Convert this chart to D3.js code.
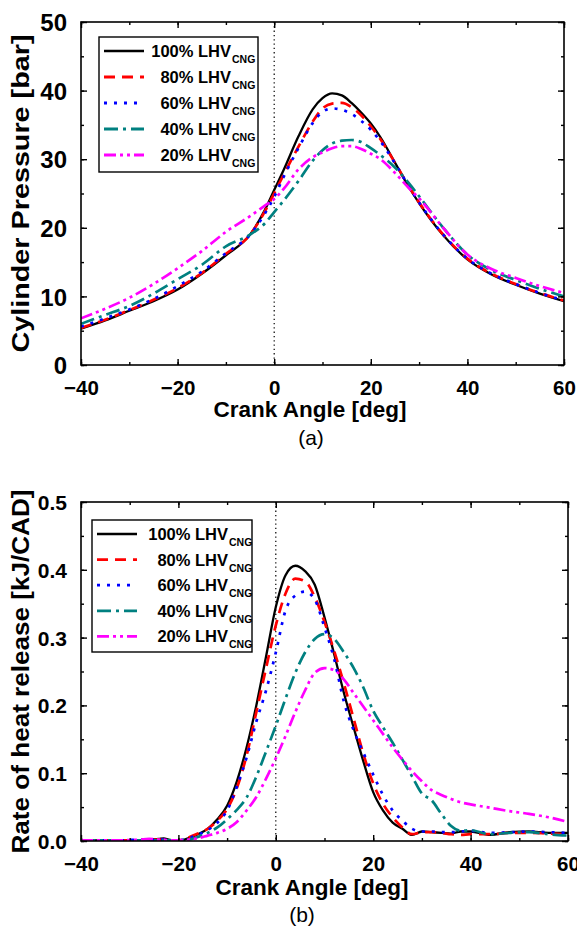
<!DOCTYPE html>
<html>
<head>
<meta charset="utf-8">
<script src="https://cdn.jsdelivr.net/npm/d3@7"></script>
<style>
html,body{margin:0;padding:0;background:#fff;}
svg{display:block;}
text{font-family:"Liberation Sans",Arial,sans-serif;}
</style>
</head>
<body>
<svg id="chart" width="577" height="936"></svg>
<script>
// ---------- DATA ----------
const seriesNames = ["100% LHV", "80% LHV", "60% LHV", "40% LHV", "20% LHV"];
const seriesSub = "CNG";
const seriesColors = ["#000000", "#ff0000", "#0000ff", "#008080", "#ff00ff"];
const seriesDash = [null, "11,7", "3,7", "14,5,3,5", "12,4,3,4,3,4"];

const xTicks = [-40, -20, 0, 20, 40, 60];
const pTicks = [0, 10, 20, 30, 40, 50];
const rTicks = [0.0, 0.1, 0.2, 0.3, 0.4, 0.5];

// (a) cylinder pressure [bar]
const angleP = [-40,-35,-30,-25,-20,-15,-10,-5,-2,0,2,5,8,10,12,14,16,18,20,22,25,28,30,35,40,45,50,55,60];
const p100 = [5.3,6.5,7.9,9.3,11.0,13.3,16.0,19.0,22.5,25.5,28.5,33.3,37.3,38.9,39.6,39.3,38.2,36.8,35.2,33.2,29.5,25.8,23.6,18.9,15.4,13.2,11.7,10.4,9.3];
const p80  = [5.4,6.6,8.0,9.5,11.2,13.4,16.2,19.0,22.3,25.0,27.8,31.8,35.5,37.4,38.1,38.2,37.6,36.4,34.8,32.9,29.5,25.9,23.7,19.0,15.5,13.3,11.8,10.5,9.4];
const p60  = [5.6,6.8,8.1,9.6,11.5,13.6,16.3,19.0,22.0,24.5,27.5,31.6,35.3,36.9,37.4,37.2,36.6,35.6,34.3,32.6,29.4,25.9,23.7,19.0,15.5,13.3,11.8,10.5,9.4];
const p40  = [6.0,7.3,8.6,10.4,12.5,14.6,17.3,19.0,20.6,22.3,24.0,26.8,29.8,31.3,32.3,32.7,32.8,32.5,31.6,30.6,28.8,26.4,24.6,20.0,16.1,13.8,12.4,11.1,10.0];
const p20  = [6.8,8.2,9.8,11.8,14.1,16.6,19.4,21.7,23.2,24.2,25.7,28.5,30.3,31.0,31.6,31.9,31.9,31.5,30.8,30.0,28.0,25.7,24.3,20.0,16.1,14.0,12.7,11.5,10.5];

// (b) rate of heat release [kJ/CAD]
const angleR = [-40,-36,-32,-28,-26,-24,-23,-22,-20,-18,-16,-14,-12,-10,-8,-6,-4,-2,0,2,4,6,8,10,12,14,16,18,20,22,24,26,28,30,32,34,36,38,40,44,48,52,56,60];
const r100 = [0.001,0.001,0.001,0.001,0.002,0.003,0.004,0.002,0.000,0.004,0.010,0.018,0.032,0.052,0.088,0.138,0.200,0.272,0.345,0.392,0.406,0.398,0.378,0.330,0.275,0.218,0.167,0.117,0.072,0.045,0.027,0.018,0.009,0.014,0.013,0.012,0.011,0.014,0.014,0.009,0.013,0.014,0.012,0.012];
const r80  = [0.001,0.001,0.001,0.001,0.002,0.002,0.002,0.001,0.001,0.005,0.011,0.018,0.030,0.047,0.078,0.126,0.190,0.255,0.318,0.365,0.387,0.383,0.360,0.323,0.280,0.232,0.180,0.128,0.085,0.055,0.035,0.020,0.010,0.013,0.013,0.012,0.010,0.009,0.010,0.010,0.012,0.012,0.011,0.010];
const r60  = [0.001,0.001,0.001,0.002,0.002,0.002,0.002,0.001,0.001,0.004,0.009,0.016,0.027,0.045,0.080,0.123,0.176,0.222,0.278,0.340,0.362,0.368,0.356,0.315,0.268,0.205,0.163,0.130,0.098,0.068,0.045,0.030,0.018,0.014,0.014,0.013,0.013,0.014,0.015,0.012,0.013,0.014,0.013,0.012];
const r40  = [0.001,0.001,0.001,0.001,0.001,0.001,0.001,0.001,0.001,0.002,0.006,0.012,0.020,0.032,0.046,0.064,0.095,0.132,0.170,0.210,0.248,0.278,0.298,0.305,0.298,0.278,0.255,0.226,0.192,0.168,0.145,0.120,0.095,0.070,0.060,0.040,0.022,0.015,0.016,0.010,0.012,0.013,0.010,0.008];
const r20  = [0.001,0.001,0.001,0.002,0.003,0.002,0.002,0.001,0.001,0.002,0.004,0.008,0.012,0.018,0.028,0.045,0.065,0.092,0.122,0.155,0.190,0.222,0.248,0.255,0.252,0.238,0.218,0.198,0.178,0.158,0.138,0.120,0.103,0.088,0.075,0.068,0.062,0.057,0.054,0.049,0.044,0.040,0.035,0.028];

const pSeries = [p100, p80, p60, p40, p20];
const rSeries = [r100, r80, r60, r40, r20];

// ---------- DRAW ----------
const svg = d3.select("#chart");
const FONT = '"Liberation Sans",Arial,sans-serif';

function drawPanel(cfg) {
  const x = d3.scaleLinear().domain([-40, 60]).range([cfg.left, cfg.right]);
  const y = d3.scaleLinear().domain(cfg.yDomain).range([cfg.bottom, cfg.top]);
  const g = svg.append("g");

  // zero line (dotted)
  g.append("line")
    .attr("x1", x(0)).attr("x2", x(0))
    .attr("y1", cfg.top).attr("y2", cfg.bottom)
    .attr("stroke", "#000").attr("stroke-width", 1.2)
    .attr("stroke-dasharray", "1.3,3");

  // curves
  const clipId = "clip" + cfg.id;
  svg.append("clipPath").attr("id", clipId).append("rect")
    .attr("x", cfg.left).attr("y", cfg.top - 2)
    .attr("width", cfg.right - cfg.left).attr("height", cfg.bottom - cfg.top + 2);
  const line = d3.line().x(d => x(d[0])).y(d => y(d[1])).curve(d3.curveMonotoneX);
  cfg.series.forEach((vals, i) => {
    const pts = cfg.angles.map((a, k) => [a, vals[k]]);
    g.append("path").datum(pts)
      .attr("clip-path", `url(#${clipId})`)
      .attr("d", line)
      .attr("fill", "none")
      .attr("stroke", seriesColors[i])
      .attr("stroke-width", i === 0 ? 2.3 : 2.7)
      .attr("stroke-dasharray", seriesDash[i]);
  });

  // axes with inward ticks on all sides
  const minorX = d3.range(-40, 61, 10);
  const minorY = d3.range(cfg.yDomain[0], cfg.yDomain[1] + cfg.yMinor / 2, cfg.yMinor);
  const axB = d3.axisBottom(x).tickValues(minorX).tickSize(-3).tickFormat("");
  const axT = d3.axisTop(x).tickValues(minorX).tickSize(-3).tickFormat("");
  const axBM = d3.axisBottom(x).tickValues(xTicks).tickSize(-6).tickPadding(15).tickFormat(d3.format("d"));
  const axTM = d3.axisTop(x).tickValues(xTicks).tickSize(-6).tickFormat("");
  const axL = d3.axisLeft(y).tickValues(minorY).tickSize(-3).tickFormat("");
  const axR = d3.axisRight(y).tickValues(minorY).tickSize(-3).tickFormat("");
  const axLM = d3.axisLeft(y).tickValues(cfg.yTicks).tickSize(-6).tickPadding(14).tickFormat(cfg.yFmt);
  const axRM = d3.axisRight(y).tickValues(cfg.yTicks).tickSize(-6).tickFormat("");

  const put = (ax, tx, ty) => {
    const a = g.append("g").attr("transform", `translate(${tx},${ty})`).call(ax);
    a.select(".domain").remove();
    a.selectAll("line").attr("stroke", "#000").attr("stroke-width", 1.4);
    return a;
  };
  put(axB, 0, cfg.bottom); put(axT, 0, cfg.top);
  put(axL, cfg.left, 0); put(axR, cfg.right, 0);
  put(axTM, 0, cfg.top); put(axRM, cfg.right, 0);
  const bx = put(axBM, 0, cfg.bottom);
  bx.selectAll("text").attr("font-family", FONT).attr("font-weight", "bold")
    .attr("font-size", 20.5).attr("fill", "#000");
  const ly = put(axLM, cfg.left, 0);
  ly.selectAll("text").attr("font-family", FONT).attr("font-weight", "bold")
    .attr("font-size", cfg.yLabelSize).attr("fill", "#000").attr("dy", "0.36em");

  // frame
  g.append("rect").attr("x", cfg.left).attr("y", cfg.top)
    .attr("width", cfg.right - cfg.left).attr("height", cfg.bottom - cfg.top)
    .attr("fill", "none").attr("stroke", "#000").attr("stroke-width", 1.6);

  // titles
  g.append("text").attr("x", cfg.xTitleX).attr("y", cfg.xTitleY)
    .attr("text-anchor", "middle").attr("font-weight", "bold").attr("font-size", 22.5)
    .attr("fill", "#000").text("Crank Angle [deg]");
  g.append("text")
    .attr("transform", `translate(${cfg.yTitleX},${(cfg.top + cfg.bottom) / 2}) rotate(-90)`)
    .attr("text-anchor", "middle").attr("font-weight", "bold").attr("font-size", cfg.yTitleSize)
    .attr("textLength", cfg.yTitleLen).attr("lengthAdjust", "spacingAndGlyphs")
    .attr("fill", "#000").text(cfg.yTitle);
  g.append("text").attr("x", cfg.capX).attr("y", cfg.capY)
    .attr("text-anchor", "middle")
    .attr("font-family", '"Liberation Serif","Times New Roman",serif')
    .attr("font-size", 21).attr("fill", "#000").text(cfg.caption);

  // legend
  const L = cfg.legend;
  g.append("rect").attr("x", L.x0).attr("y", L.y0).attr("width", L.x1 - L.x0).attr("height", L.y1 - L.y0)
    .attr("fill", "#fff").attr("stroke", "#000").attr("stroke-width", 1.4);
  seriesNames.forEach((nm, i) => {
    const ry = L.rowY0 + i * L.rowStep;
    g.append("line").attr("x1", L.lx0).attr("x2", L.lx1).attr("y1", ry).attr("y2", ry)
      .attr("stroke", seriesColors[i]).attr("stroke-width", i === 0 ? 2.6 : 2.8)
      .attr("stroke-dasharray", seriesDash[i]);
    g.append("text").attr("x", L.textEnd).attr("y", ry + 6)
      .attr("text-anchor", "end").attr("font-weight", "bold").attr("font-size", 16.5)
      .attr("fill", "#000").text(nm);
    g.append("text").attr("x", L.textEnd + 1).attr("y", ry + 12)
      .attr("font-weight", "bold").attr("font-size", 10.5)
      .attr("fill", "#000").text(seriesSub);
  });
}

drawPanel({
  id: "a", left: 81, right: 564, top: 22, bottom: 365,
  yDomain: [0, 50], yTicks: pTicks, yMinor: 5, yFmt: d3.format("d"), yLabelSize: 24,
  angles: angleP, series: pSeries,
  yTitle: "Cylinder Pressure [bar]", yTitleX: 29, yTitleSize: 24, yTitleLen: 318,
  xTitleX: 310, xTitleY: 417, capX: 311, capY: 445, caption: "(a)",
  legend: {x0: 99, y0: 37, x1: 258, y1: 172, rowY0: 51, rowStep: 26, lx0: 104, lx1: 144, textEnd: 231}
});

drawPanel({
  id: "b", left: 81, right: 568, top: 502, bottom: 841,
  yDomain: [0, 0.5], yTicks: rTicks, yMinor: 0.05, yFmt: d3.format(".1f"), yLabelSize: 21,
  angles: angleR, series: rSeries,
  yTitle: "Rate of heat release [kJ/CAD]", yTitleX: 29, yTitleSize: 24, yTitleLen: 364,
  xTitleX: 312, xTitleY: 895, capX: 302, capY: 922, caption: "(b)",
  legend: {x0: 92, y0: 520, x1: 252, y1: 652, rowY0: 534, rowStep: 25.6, lx0: 97, lx1: 137, textEnd: 228}
});
</script>
</body>
</html>
